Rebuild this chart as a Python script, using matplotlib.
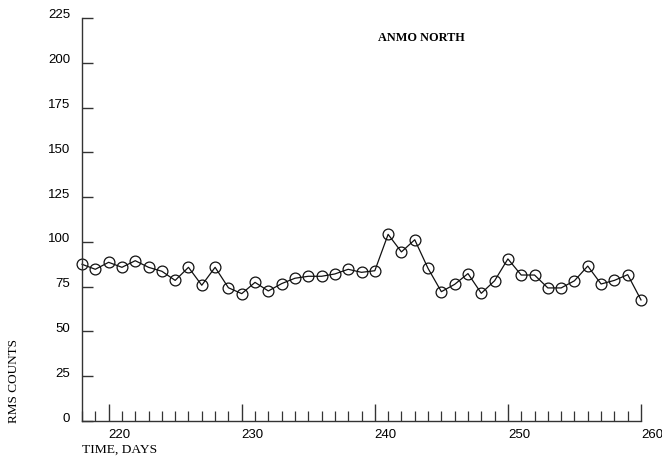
import matplotlib.pyplot as plt
from matplotlib.transforms import ScaledTranslation

# ANMO north component, daily RMS noise
days = list(range(218, 261))
rms = [87.5, 84.7, 88.6, 85.8, 89.5, 85.8, 83.6, 78.5, 85.8, 75.8,
       85.8, 74.4, 71.1, 77.4, 72.6, 76.7, 79.7, 80.8, 80.8, 82.1,
       84.7, 83.0, 83.9, 104.2, 94.4, 101.2, 85.2, 72.2, 76.3, 82.3,
       71.3, 78.3, 90.5, 81.5, 81.5, 74.3, 74.3, 78.3, 86.5, 76.5,
       78.5, 81.7, 67.6]

yticks = [0, 25, 50, 75, 100, 125, 150, 175, 200, 225]
xmajor = [220, 230, 240, 250, 260]

fig = plt.figure(figsize=(6.62, 4.62), dpi=100)
ax = fig.add_axes([82/662, 1 - 421/462, (641 - 82)/662, (421 - 18)/462])

ax.plot(days, rms, color='#111111', lw=0.9, marker='o', ms=7.8,
        mfc='none', mec='#111111', mew=0.9, clip_on=False)

ax.set_xlim(218, 260)
ax.set_ylim(0, 225)

for s in ['top', 'right']:
    ax.spines[s].set_visible(False)
for s in ['left', 'bottom']:
    ax.spines[s].set_color('#333333')
    ax.spines[s].set_linewidth(1.0)

ax.set_yticks(yticks)
ax.set_yticklabels([str(v) for v in yticks], family='Liberation Sans', fontsize=9.5)
ax.tick_params(axis='y', direction='in', length=8, width=1.0, color='#333333', pad=8.5)

ax.set_xticks(xmajor)
ax.set_xticklabels([str(v) for v in xmajor], family='Liberation Sans', fontsize=9.5, ha='left')
ax.set_xticks(days, minor=True)
ax.tick_params(axis='x', which='major', direction='in', length=12, width=1.0, color='#333333', pad=6)
ax.tick_params(axis='x', which='minor', direction='in', length=7, width=0.9, color='#333333')

# y labels sit a little above their ticks in the original
off = ScaledTranslation(0, 4/100, fig.dpi_scale_trans)
for lab in ax.get_yticklabels():
    lab.set_transform(lab.get_transform() + off)

fig.text(82/662, 1 - 450/462, 'TIME, DAYS', family='Liberation Serif', fontsize=9.7,
         ha='left', va='center')
fig.text(14/662, 1 - 381/462, 'RMS COUNTS', family='Liberation Serif', fontsize=9.5,
         rotation=90, ha='center', va='center')
fig.text(378/662, 1 - 38/462, 'ANMO NORTH', family='Liberation Serif', fontsize=8.8,
         weight='bold', ha='left', va='center')

fig.savefig('out.png', dpi=100)
